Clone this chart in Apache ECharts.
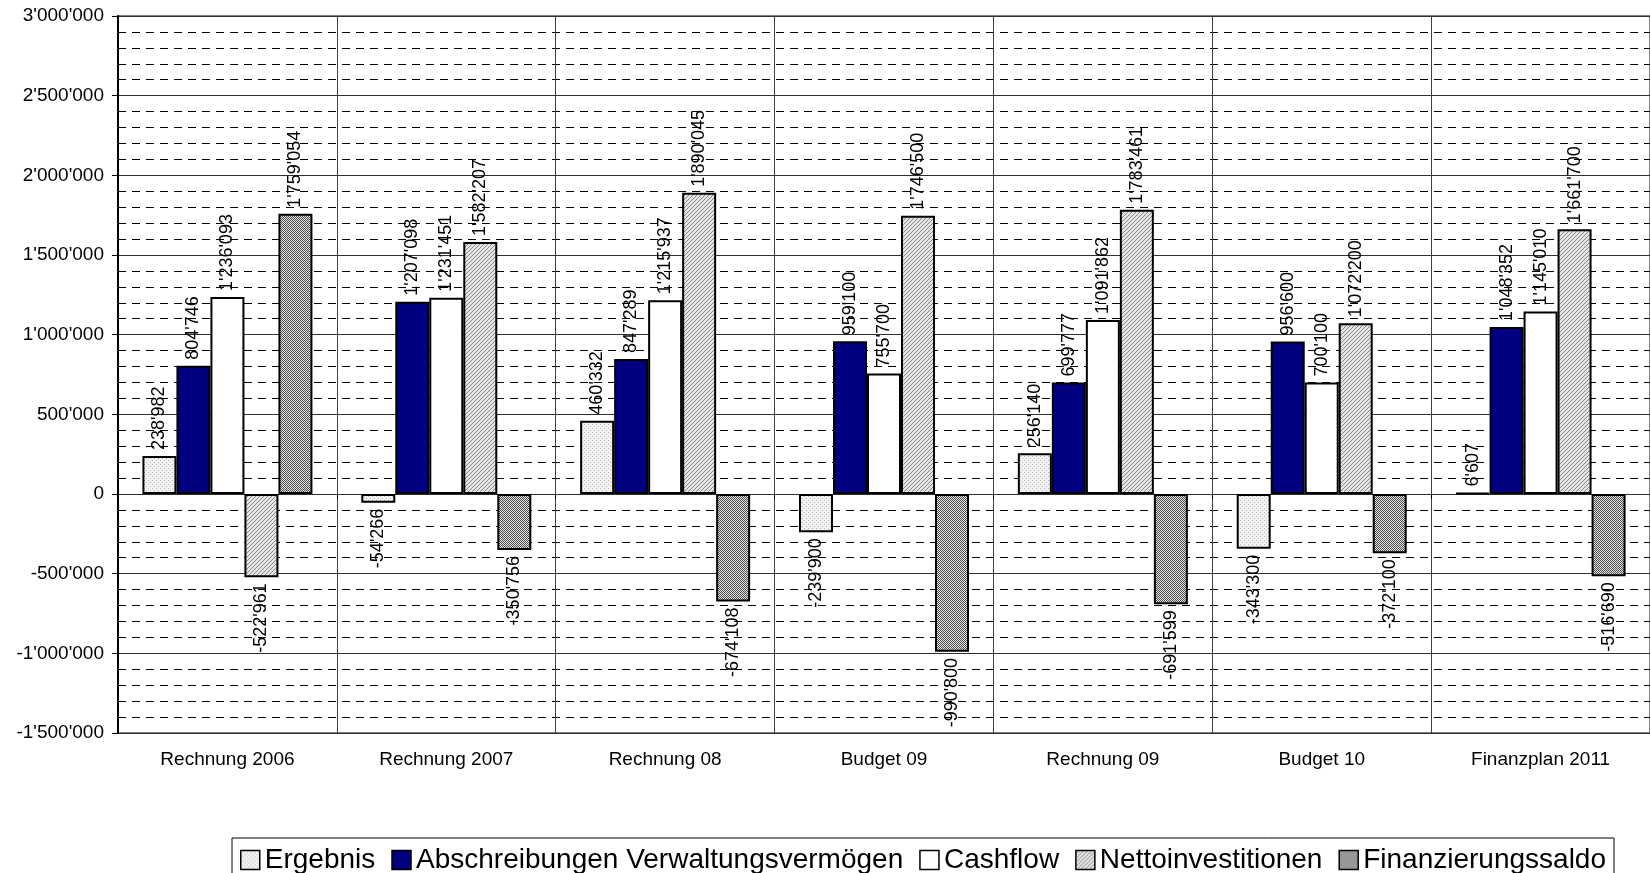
<!DOCTYPE html>
<html>
<head>
<meta charset="utf-8">
<script src="https://cdn.jsdelivr.net/npm/echarts@6/dist/echarts.min.js"></script>
<style>
html,body{margin:0;padding:0;background:#fff;}
#chart{width:1650px;height:873px;}
</style>
</head>
<body>
<div id="chart"></div>
<script>
const categories = ['Rechnung 2006','Rechnung 2007','Rechnung 08','Budget 09','Rechnung 09','Budget 10','Finanzplan 2011'];
const seriesNames = ['Ergebnis','Abschreibungen Verwaltungsvermögen','Cashflow','Nettoinvestitionen','Finanzierungssaldo'];
const ergebnis = [238982, -54266, 460332, -239900, 256140, -343300, 6607];
const abschreibungen = [804746, 1207098, 847289, 959100, 699777, 956600, 1048352];
const cashflow = [1236093, 1231451, 1215937, 755700, 1091862, 700100, 1145010];
const nettoinvestitionen = [-522961, 1582207, 1890045, 1746500, 1783461, 1072200, 1661700];
const finanzierungssaldo = [1759054, -350756, -674108, -990800, -691599, -372100, -516690];
const yTicks = [-1500000, 3000000, 500000];

function fmt(v){
  const s = Math.abs(v).toString().replace(/\B(?=(\d{3})+(?!\d))/g, "'");
  return (v < 0 ? '-' : '') + s;
}

function makePattern(size, draw){
  const c = document.createElement('canvas');
  c.width = size; c.height = size;
  const ctx = c.getContext('2d');
  draw(ctx, size);
  return {image: c, repeat: 'repeat'};
}
const patDots = makePattern(4, (ctx) => {
  ctx.fillStyle = '#f2f2f2'; ctx.fillRect(0,0,4,4);
  ctx.fillStyle = '#b8b8b8';
  ctx.fillRect(0,0,1,1); ctx.fillRect(2,2,1,1);
});
const patHatch = makePattern(4, (ctx) => {
  ctx.fillStyle = '#e4e4e4'; ctx.fillRect(0,0,4,4);
  ctx.fillStyle = '#8a8a8a';
  for (let i = 0; i < 4; i++) ctx.fillRect(i, 3 - i, 1, 1);
});
const patChecker = makePattern(2, (ctx) => {
  ctx.fillStyle = '#e0e0e0'; ctx.fillRect(0,0,2,2);
  ctx.fillStyle = '#505050';
  ctx.fillRect(0,0,1,1); ctx.fillRect(1,1,1,1);
});

const fills = [patDots, '#000080', '#ffffff', patHatch, patChecker];
const values = [ergebnis, abschreibungen, cashflow, nettoinvestitionen, finanzierungssaldo];
const FONT = 'Liberation Sans, Arial, sans-serif';

const series = seriesNames.map((name, i) => ({
  name: name,
  type: 'bar',
  xAxisIndex: 0,
  barWidth: 34,
  barGap: '0%',
  itemStyle: {color: fills[i], borderColor: '#000', borderWidth: 2},
  label: {
    show: true,
    rotate: 90,
    distance: 6,
    color: '#000',
    fontSize: 18,
    fontFamily: FONT,
    verticalAlign: 'middle',
    formatter: (p) => fmt(p.value)
  },
  data: values[i].map(v => ({
    value: v,
    label: {position: v < 0 ? 'bottom' : 'top', align: v < 0 ? 'right' : 'left'}
  }))
}));

const chart = echarts.init(document.getElementById('chart'), null, {renderer: 'canvas'});
chart.setOption({
  backgroundColor: '#fff',
  animation: false,
  grid: {left: 118, top: 16, width: 1547, height: 717, show: true, borderColor: '#808080', borderWidth: 2, backgroundColor: 'transparent'},
  legend: {
    data: seriesNames,
    left: 232, top: 838,
    icon: 'rect',
    itemWidth: 19, itemHeight: 19,
    itemGap: 16,
    padding: [8, 8, 20, 8],
    borderColor: '#000', borderWidth: 1,
    textStyle: {fontSize: 28, fontFamily: FONT, color: '#000'},
    itemStyle: {borderColor: '#000', borderWidth: 1.5}
  },
  xAxis: [{
    type: 'category',
    data: categories,
    position: 'bottom',
    axisLine: {show: false, onZero: false},
    axisTick: {show: false},
    axisLabel: {fontSize: 19, fontFamily: FONT, color: '#000', margin: 17},
    splitLine: {show: true, interval: 0, lineStyle: {color: '#404040', width: 1}}
  }, {
    type: 'category',
    data: categories,
    position: 'bottom',
    axisLine: {show: true, onZero: true, lineStyle: {color: '#303030', width: 1}},
    axisTick: {show: true, length: 5, lineStyle: {color: '#000'}},
    axisLabel: {show: false},
    splitLine: {show: false}
  }],
  yAxis: {
    type: 'value',
    min: yTicks[0], max: yTicks[1], interval: yTicks[2],
    axisLine: {show: true, lineStyle: {color: '#000', width: 2}},
    axisTick: {show: true, length: 6, lineStyle: {color: '#000'}},
    axisLabel: {fontSize: 19, fontFamily: FONT, color: '#000', margin: 14, formatter: (v) => fmt(v)},
    splitLine: {show: true, lineStyle: {color: '#303030', width: 1}},
    minorTick: {show: false, splitNumber: 5},
    minorSplitLine: {show: true, lineStyle: {color: '#000', width: 1, type: [8, 6]}}
  },
  series: series
});
</script>
</body>
</html>
